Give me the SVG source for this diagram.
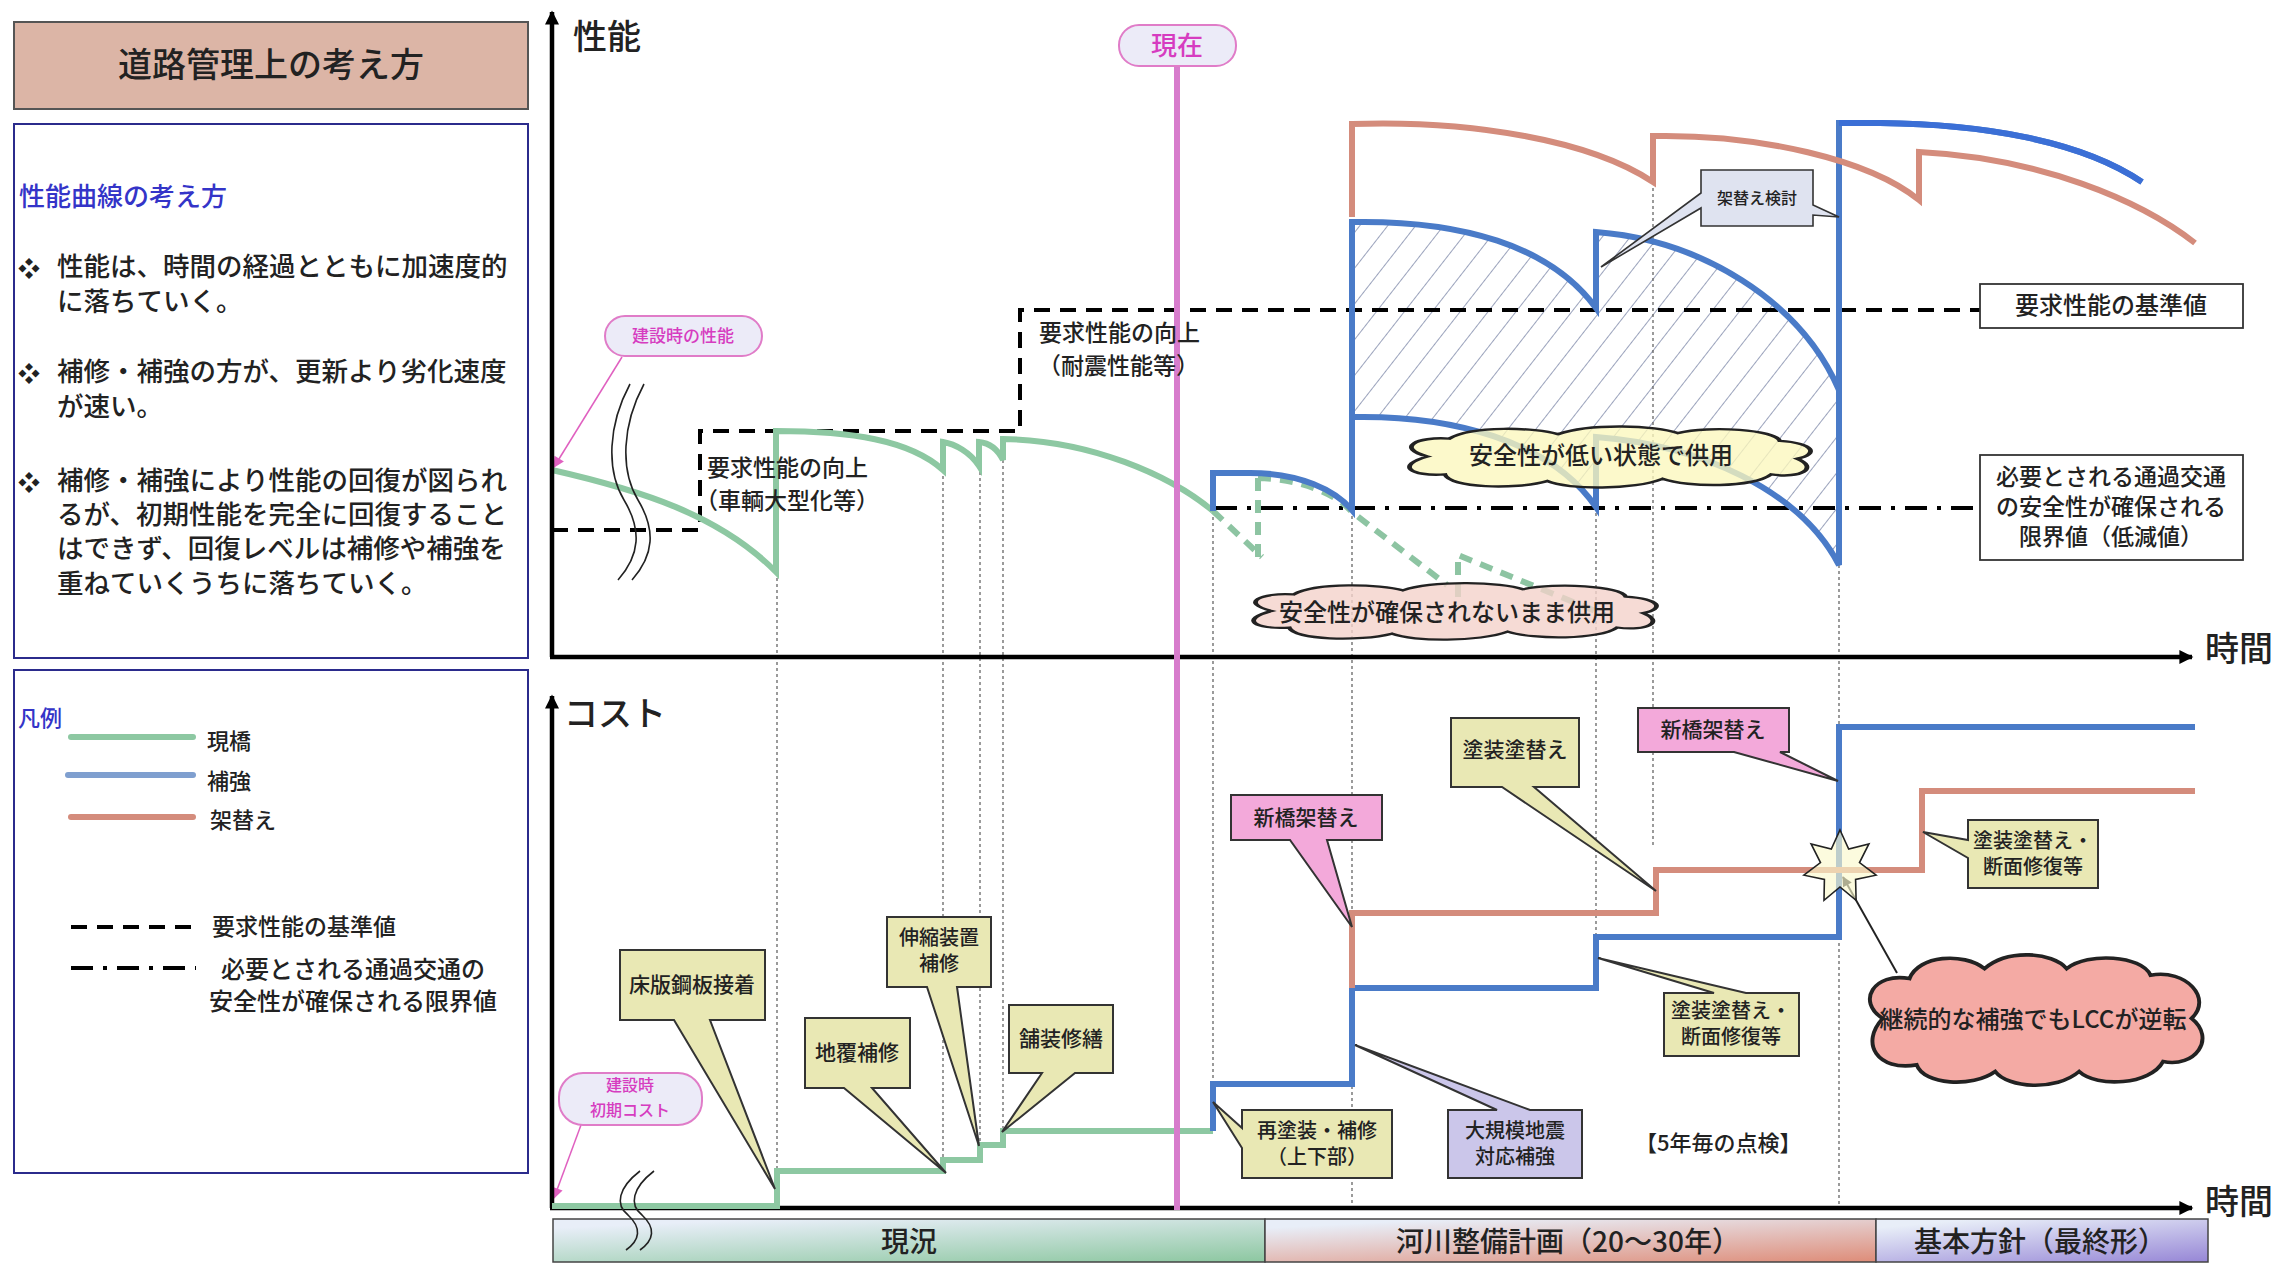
<svg xmlns="http://www.w3.org/2000/svg" width="2290" height="1263" viewBox="0 0 2290 1263">
<style>
.t{font-family:"Noto Sans CJK JP","Noto Sans",sans-serif;fill:#222;font-weight:500}
.c{text-anchor:middle}
.mg{fill:#d63cc0}
.bl{fill:#3434c8}
.grn{fill:none;stroke:#8dc8a2;stroke-width:6;stroke-linejoin:miter}
.blu{fill:none;stroke:#4a7bc8;stroke-width:6;stroke-linejoin:miter}
.sal{fill:none;stroke:#d48c7c;stroke-width:6;stroke-linejoin:miter}
.dot{fill:none;stroke:#666;stroke-width:1.3;stroke-dasharray:3 3}
.req{fill:none;stroke:#000;stroke-width:4;stroke-dasharray:16 10}
.lim{fill:none;stroke:#000;stroke-width:4;stroke-dasharray:22 10 4 10}
.ax{fill:none;stroke:#000;stroke-width:4.5}
.cy{fill:#e9e8b4;stroke:#333;stroke-width:2}
.cp{fill:#f3a9da;stroke:#333;stroke-width:2}
.cl{fill:#cbc6ea;stroke:#333;stroke-width:2}
.cloud{stroke:#222;stroke-width:2.2}
.brk{fill:none;stroke:#222;stroke-width:1.6}
.pill{fill:#ecebf8;stroke:#e07cc8;stroke-width:2}
.box{fill:#fff;stroke:#333;stroke-width:1.8}
</style>
<defs>
<marker id="ah" viewBox="0 0 10 10" refX="9" refY="5" markerWidth="18" markerHeight="14" markerUnits="userSpaceOnUse" orient="auto"><path d="M0,0 L10,5 L0,10 Z" fill="#000"/></marker>
<marker id="ahs" viewBox="0 0 10 10" refX="9" refY="5" markerWidth="12" markerHeight="10" markerUnits="userSpaceOnUse" orient="auto"><path d="M0,0 L10,5 L0,10 Z" fill="#222"/></marker>
<marker id="ahp" viewBox="0 0 10 10" refX="9" refY="5" markerWidth="14" markerHeight="11" markerUnits="userSpaceOnUse" orient="auto"><path d="M0,0 L10,5 L0,10 Z" fill="#e060c0"/></marker>
<pattern id="hatch" patternUnits="userSpaceOnUse" width="22" height="22" patternTransform="rotate(38)"><line x1="0" y1="0" x2="0" y2="22" stroke="#56658e" stroke-width="1.2"/></pattern>
<path id="cloudA" d="M20,30 C5,22 15,12 30,14 C40,2 70,4 80,10 C95,0 125,2 135,9 C150,2 180,6 182,16 C198,18 200,28 190,32 C200,40 192,50 178,46 C170,58 140,58 128,50 C115,60 85,60 75,52 C60,60 30,58 28,46 C12,48 5,38 20,30 Z"/>
<path id="cloudB" d="M15,40 C0,30 10,12 30,16 C35,2 60,0 72,10 C85,-2 110,0 118,10 C130,0 160,2 165,14 C185,10 200,28 188,40 C202,52 190,70 172,66 C165,80 135,82 125,72 C112,84 85,82 78,72 C65,82 38,80 34,68 C12,72 2,55 15,40 Z"/>
<linearGradient id="g1" x1="0.3" y1="0" x2="1" y2="1"><stop offset="0" stop-color="#e8eef8"/><stop offset="1" stop-color="#8cc7a0"/></linearGradient>
<linearGradient id="g2" x1="0.3" y1="0" x2="1" y2="1"><stop offset="0" stop-color="#e8eef8"/><stop offset="1" stop-color="#de8c78"/></linearGradient>
<linearGradient id="g3" x1="0.3" y1="0" x2="1" y2="1"><stop offset="0" stop-color="#e8eef8"/><stop offset="1" stop-color="#9686d6"/></linearGradient>
</defs>
<rect width="2290" height="1263" fill="#fff"/>

<!-- left panels -->
<g id="title">
<rect x="14" y="22" width="514" height="87" fill="#dcb5a6" stroke="#555" stroke-width="2"/>
<text class="t c" x="271" y="77" font-size="34">道路管理上の考え方</text>
</g>
<g id="concept">
<rect x="14" y="124" width="514" height="534" fill="#fff" stroke="#2b2b8c" stroke-width="2"/>
<text class="t bl" x="19" y="206" font-size="26">性能曲線の考え方</text>
<g font-size="22"><text class="t" x="18" y="276">❖</text><text class="t" x="18" y="381">❖</text><text class="t" x="18" y="490">❖</text></g>
<g font-size="26.5">
<text class="t" x="57" y="276">性能は、時間の経過とともに加速度的</text>
<text class="t" x="57" y="311">に落ちていく。</text>
<text class="t" x="57" y="381">補修・補強の方が、更新より劣化速度</text>
<text class="t" x="57" y="416">が速い。</text>
<text class="t" x="57" y="490">補修・補強により性能の回復が図られ</text>
<text class="t" x="57" y="524">るが、初期性能を完全に回復すること</text>
<text class="t" x="57" y="558">はできず、回復レベルは補修や補強を</text>
<text class="t" x="57" y="593">重ねていくうちに落ちていく。</text>
</g>
</g>
<g id="legend">
<rect x="14" y="670" width="514" height="503" fill="#fff" stroke="#2b2b8c" stroke-width="2"/>
<text class="t bl" x="18" y="726" font-size="22">凡例</text>
<line x1="71" y1="737" x2="193" y2="737" stroke="#8dc8a2" stroke-width="6" stroke-linecap="round"/>
<line x1="68" y1="775" x2="193" y2="775" stroke="#7f9fcf" stroke-width="6" stroke-linecap="round"/>
<line x1="71" y1="817" x2="193" y2="817" stroke="#d48c7c" stroke-width="6" stroke-linecap="round"/>
<text class="t" x="207" y="749" font-size="22">現橋</text>
<text class="t" x="207" y="789" font-size="22">補強</text>
<text class="t" x="210" y="828" font-size="22">架替え</text>
<line x1="71" y1="927" x2="193" y2="927" class="req"/>
<line x1="71" y1="968" x2="196" y2="968" class="lim"/>
<text class="t" x="212" y="935" font-size="23">要求性能の基準値</text>
<text class="t" x="221" y="978" font-size="24">必要とされる通過交通の</text>
<text class="t" x="209" y="1010" font-size="24">安全性が確保される限界値</text>
</g>

<!-- hatched region -->
<g id="hatched-area">
<path d="M1352,222 C1460,220 1550,245 1596,308 L1596,232 C1700,240 1800,300 1839,390 L1839,565 C1800,490 1700,445 1596,437 L1596,507 C1550,440 1450,415 1352,417 Z" fill="url(#hatch)"/>
</g>

<!-- connectors: guides, thresholds, curves -->
<g id="connectors">
<g id="guides">
<line class="dot" x1="777" y1="572" x2="777" y2="1171"/>
<line class="dot" x1="943" y1="470" x2="943" y2="1160"/>
<line class="dot" x1="980" y1="466" x2="980" y2="1146"/>
<line class="dot" x1="1003" y1="460" x2="1003" y2="1131"/>
<line class="dot" x1="1213" y1="511" x2="1213" y2="1078"/>
<line class="dot" x1="1352" y1="510" x2="1352" y2="1207"/>
<line class="dot" x1="1596" y1="507" x2="1596" y2="935"/>
<line class="dot" x1="1653" y1="182" x2="1653" y2="848"/>
<line class="dot" x1="1839" y1="565" x2="1839" y2="1207"/>
</g>
<path class="req" d="M552,530 H700 V431 H1020 V310 H1980"/>
<path class="lim" d="M1215,508 H1980"/>

<path id="perf-green" class="grn" d="M552,470 C640,490 720,515 776,572 V431 C850,431 910,440 943,470 V442 C955,444 970,452 979,466 V442 C990,443 998,450 1003,460 V439 C1090,440 1170,475 1213,511"/>
<path id="perf-green-dash" fill="none" stroke="#8dc4a2" stroke-width="6" stroke-dasharray="13 9" d="M1213,511 L1262,557 M1258,557 V478 M1258,478 C1300,479 1335,493 1352,512 L1447,585 M1458,597 V555 L1605,615"/>
<path id="perf-blue1" class="blu" d="M1213,511 V473 H1250 C1300,473 1335,490 1352,510 V222 C1460,220 1550,245 1596,308 V232 C1700,240 1800,300 1839,390"/>
<path id="perf-blue2" class="blu" d="M1352,417 C1450,415 1550,440 1596,507 V437 C1700,445 1800,490 1839,565 V123 H1880 C1980,124 2080,140 2142,182"/>
<path id="perf-blue3" fill="none" stroke="#3b6fd6" stroke-width="6" d="M1839,123 H1880 C1980,124 2080,140 2142,182"/>
<path id="perf-salmon" class="sal" d="M1352,217 V124 C1470,120 1590,140 1653,182 V136 C1760,134 1870,160 1919,200 V152 C2040,158 2140,200 2195,243"/>

<path id="cost-green" class="grn" d="M552,1206 H777 V1171 H943 V1160 H980 V1145 H1003 V1131 H1213"/>
<path id="cost-blue" class="blu" d="M1213,1131 V1084 H1352 V988 H1596 V937 H1839 V727 H2195"/>
<path id="cost-salmon" class="sal" d="M1352,988 V913 H1656 V870 H1922 V791 H2195"/>
<line x1="1897" y1="973" x2="1843" y2="877" stroke="#222" stroke-width="2" marker-end="url(#ahs)"/>
<line x1="622" y1="357" x2="554" y2="467" stroke="#e060c0" stroke-width="1.5" marker-end="url(#ahp)"/>
<line x1="581" y1="1125" x2="554" y2="1198" stroke="#e060c0" stroke-width="1.5" marker-end="url(#ahp)"/>
</g>

<!-- axes -->
<g id="axes">
<line class="ax" x1="552" y1="657" x2="552" y2="12" marker-end="url(#ah)"/>
<line class="ax" x1="550" y1="657" x2="2192" y2="657" marker-end="url(#ah)"/>
<line class="ax" x1="552" y1="1208" x2="552" y2="696" marker-end="url(#ah)"/>
<line class="ax" x1="550" y1="1208" x2="2192" y2="1208" marker-end="url(#ah)"/>
<text class="t" x="573" y="49" font-size="34">性能</text>
<text class="t" x="564" y="726" font-size="34">コスト</text>
<text class="t" x="2205" y="661" font-size="34">時間</text>
<text class="t" x="2205" y="1214" font-size="34">時間</text>
</g>
<g id="cost-green-top"><path class="grn" d="M552,1206 H777 V1171"/></g>

<!-- break marks -->
<g id="break-perf">
<path class="brk" d="M630,384 C608,425 606,470 624,500 C642,530 640,555 618,580"/>
<path class="brk" d="M644,384 C622,425 620,470 638,500 C656,530 654,555 632,580"/>
</g>

<!-- bands -->
<g id="band-now"><rect x="553" y="1219" width="712" height="43" fill="url(#g1)" stroke="#444" stroke-width="1.5"/><text class="t c" x="909" y="1252" font-size="28">現況</text></g>
<g id="band-plan"><rect x="1265" y="1219" width="611" height="43" fill="url(#g2)" stroke="#444" stroke-width="1.5"/><text class="t c" x="1568" y="1252" font-size="28">河川整備計画（20～30年）</text></g>
<g id="band-final"><rect x="1876" y="1219" width="332" height="43" fill="url(#g3)" stroke="#444" stroke-width="1.5"/><text class="t c" x="2040" y="1252" font-size="28">基本方針（最終形）</text></g>

<g id="break-cost">
<path class="brk" d="M640,1171 C618,1188 615,1205 628,1215 C642,1228 640,1240 626,1250"/>
<path class="brk" d="M654,1171 C632,1188 629,1205 642,1215 C656,1228 654,1240 640,1250"/>
</g>

<!-- clouds -->
<g id="cloud-low">
<use href="#cloudA" class="cloud" fill="#fbf7bd" fill-opacity="0.78" vector-effect="non-scaling-stroke" transform="translate(1384,423) scale(2.175,1.117)"/>
<text class="t c" x="1601" y="464" font-size="24">安全性が低い状態で供用</text>
</g>
<g id="cloud-unsafe">
<use href="#cloudA" class="cloud" fill="#f4d2ca" fill-opacity="0.8" vector-effect="non-scaling-stroke" transform="translate(1228,580) scale(2.185,1.033)"/>
<text class="t c" x="1447" y="621" font-size="24">安全性が確保されないまま供用</text>
</g>
<g id="cloud-lcc">
<use href="#cloudB" class="cloud" fill="#f4aaa4" vector-effect="non-scaling-stroke" transform="translate(1856,952) scale(1.785,1.66)"/>
<text class="t c" x="2033" y="1028" font-size="24">継続的な補強でもLCCが逆転</text>
</g>

<!-- star -->
<g id="star">
<polygon points="1840,830 1848.7,849 1868.9,843.9 1859.5,862.6 1876.1,875.2 1855.6,879.5 1856.1,900.3 1840,887 1824,900.3 1824.4,879.5 1803.9,875.2 1820.5,862.6 1811.1,843.9 1831.3,849" fill="#fbf9cc" fill-opacity="0.65" stroke="#222" stroke-width="1.6"/>
</g>

<!-- present line -->
<g id="present">
<line x1="1177" y1="66" x2="1177" y2="1210" stroke="#d77ccc" stroke-width="6"/>
<rect x="1119" y="25" width="117" height="41" rx="20" class="pill"/>
<text class="t c mg" x="1177" y="55" font-size="26">現在</text>
</g>
<g id="initial-perf">
<rect x="605" y="316" width="157" height="40" rx="20" class="pill"/>
<text class="t c mg" x="683" y="342" font-size="17">建設時の性能</text>
</g>
<g id="initial-cost">
<rect x="559" y="1073" width="143" height="52" rx="24" class="pill"/>
<text class="t c mg" x="630" y="1091" font-size="16">建設時</text>
<text class="t c mg" x="630" y="1116" font-size="16">初期コスト</text>
</g>

<!-- performance annotations -->
<g id="req-up1">
<text class="t" x="707" y="476" font-size="23">要求性能の向上</text>
<text class="t" x="695" y="509" font-size="23">（車輌大型化等）</text>
</g>
<g id="req-up2">
<text class="t" x="1039" y="341" font-size="23">要求性能の向上</text>
<text class="t" x="1038" y="374" font-size="23">（耐震性能等）</text>
</g>
<g id="req-label">
<rect x="1980" y="284" width="263" height="44" class="box"/>
<text class="t c" x="2111" y="314" font-size="24">要求性能の基準値</text>
</g>
<g id="lim-label">
<rect x="1980" y="455" width="263" height="105" class="box"/>
<text class="t c" x="2111" y="485" font-size="23">必要とされる通過交通</text>
<text class="t c" x="2111" y="515" font-size="23">の安全性が確保される</text>
<text class="t c" x="2111" y="545" font-size="23">限界値（低減値）</text>
</g>
<g id="replace-study">
<path d="M1701,170 H1813 V205 L1839,217 L1813,215 V226 H1701 V208 L1601,267 L1701,193 Z" fill="#dfe3f0" stroke="#333" stroke-width="1.6"/>
<text class="t c" x="1757" y="204" font-size="16">架替え検討</text>
</g>

<!-- cost callouts -->
<g id="c-deck"><path class="cy" d="M620,950 H765 V1020 H710 L775,1189 L674,1020 H620 Z"/><text class="t c" x="692" y="992" font-size="21">床版鋼板接着</text></g>
<g id="c-curb"><path class="cy" d="M805,1018 H910 V1088 H872 L946,1173 L844,1088 H805 Z"/><text class="t c" x="857" y="1060" font-size="21">地覆補修</text></g>
<g id="c-joint"><path class="cy" d="M887,917 H991 V987 H957 L979,1146 L927,987 H887 Z"/><text class="t c" x="939" y="945" font-size="20">伸縮装置</text><text class="t c" x="939" y="971" font-size="20">補修</text></g>
<g id="c-pave"><path class="cy" d="M1009,1005 H1113 V1073 H1075 L1002,1132 L1042,1073 H1009 Z"/><text class="t c" x="1061" y="1046" font-size="21">舗装修繕</text></g>
<g id="c-repaint"><path class="cy" d="M1242,1110 H1392 V1178 H1242 V1148 L1213,1102 L1242,1128 Z"/><text class="t c" x="1317" y="1138" font-size="20">再塗装・補修</text><text class="t c" x="1317" y="1164" font-size="20">（上下部）</text></g>
<g id="c-new1"><path class="cp" d="M1231,795 H1382 V840 H1327 L1352,927 L1290,840 H1231 Z"/><text class="t c" x="1306" y="825" font-size="21">新橋架替え</text></g>
<g id="c-quake"><path class="cl" d="M1448,1110 H1497 L1355,1045 L1530,1110 H1582 V1178 H1448 Z"/><text class="t c" x="1515" y="1138" font-size="20">大規模地震</text><text class="t c" x="1515" y="1164" font-size="20">対応補強</text></g>
<g id="c-paint1"><path class="cy" d="M1451,718 H1579 V787 H1534 L1656,891 L1502,787 H1451 Z"/><text class="t c" x="1515" y="757" font-size="21">塗装塗替え</text></g>
<g id="c-new2"><path class="cp" d="M1638,708 H1789 V752 H1780 L1838,781 L1734,752 H1638 Z"/><text class="t c" x="1713" y="737" font-size="21">新橋架替え</text></g>
<g id="c-paint2"><path class="cy" d="M1664,993 H1714 L1598,958 L1746,993 H1799 V1056 H1664 Z"/><text class="t c" x="1731" y="1018" font-size="20">塗装塗替え・</text><text class="t c" x="1731" y="1044" font-size="20">断面修復等</text></g>
<g id="c-paint3"><path class="cy" d="M1968,820 H2098 V888 H1968 V858 L1923,832 L1968,840 Z"/><text class="t c" x="2033" y="848" font-size="20">塗装塗替え・</text><text class="t c" x="2033" y="874" font-size="20">断面修復等</text></g>
<g id="inspect"><text class="t" x="1635" y="1151" font-size="22">【5年毎の点検】</text></g>
</svg>
